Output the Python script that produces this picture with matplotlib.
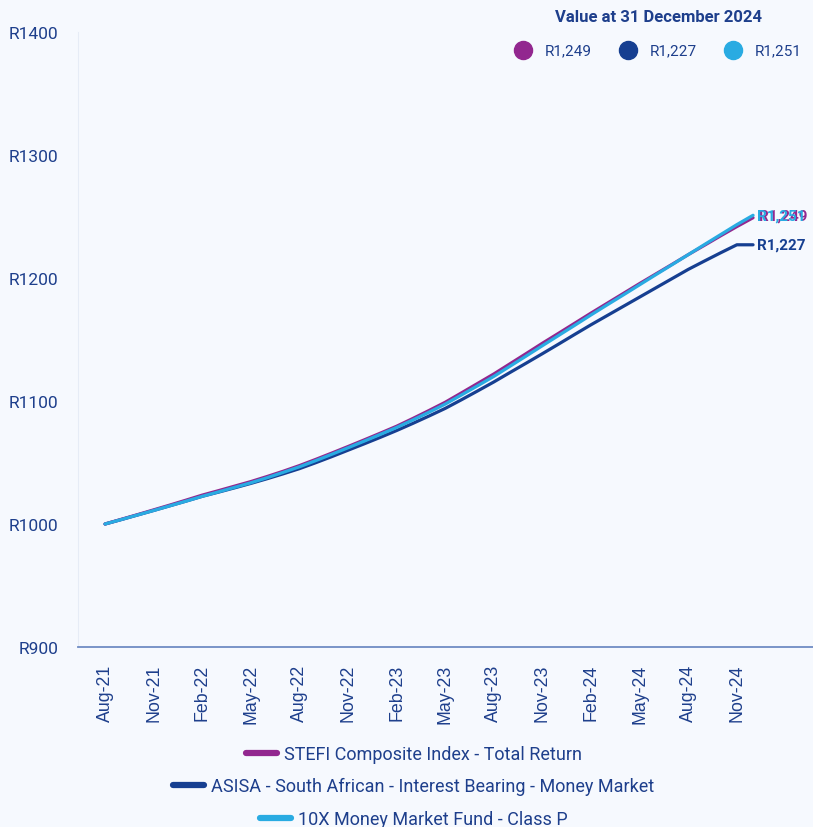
import matplotlib
matplotlib.use("Agg")
import matplotlib.pyplot as plt
from matplotlib.lines import Line2D

months = ["Aug-21","Sep-21","Oct-21","Nov-21","Dec-21","Jan-22","Feb-22","Mar-22","Apr-22","May-22",
          "Jun-22","Jul-22","Aug-22","Sep-22","Oct-22","Nov-22","Dec-22","Jan-23","Feb-23","Mar-23",
          "Apr-23","May-23","Jun-23","Jul-23","Aug-23","Sep-23","Oct-23","Nov-23","Dec-23","Jan-24",
          "Feb-24","Mar-24","Apr-24","May-24","Jun-24","Jul-24","Aug-24","Sep-24","Oct-24","Nov-24","Dec-24"]

stefi = [1000.0, 1003.8, 1007.6, 1011.5, 1015.4, 1019.4, 1023.5, 1027.1, 1030.8, 1034.5,
         1038.6, 1042.9, 1047.5, 1052.5, 1057.7, 1063.0, 1068.4, 1073.9, 1079.5, 1085.8,
         1092.3, 1099.0, 1106.6, 1114.3, 1122.0, 1130.3, 1138.6, 1147.0, 1155.1, 1163.3,
         1171.5, 1179.5, 1187.5, 1195.5, 1203.3, 1211.1, 1219.0, 1226.6, 1234.3, 1241.8, 1249.0]

asisa = [1000.0, 1003.6, 1007.3, 1011.0, 1014.8, 1018.6, 1022.5, 1025.9, 1029.4, 1033.0,
         1036.8, 1040.8, 1045.0, 1049.8, 1054.8, 1060.0, 1065.2, 1070.5, 1076.0, 1081.8,
         1087.8, 1094.0, 1101.0, 1108.2, 1115.5, 1123.2, 1130.8, 1138.5, 1146.3, 1154.2,
         1162.0, 1169.5, 1177.0, 1184.5, 1192.0, 1199.5, 1207.0, 1213.8, 1220.5, 1227.0, 1227.0]

tenx = [1000.0, 1003.6, 1007.3, 1011.0, 1014.8, 1018.6, 1022.5, 1026.1, 1029.8, 1033.5,
        1037.6, 1042.0, 1046.5, 1051.5, 1056.7, 1062.0, 1067.4, 1072.9, 1078.5, 1084.6,
        1090.9, 1097.5, 1104.9, 1112.4, 1120.0, 1128.3, 1136.6, 1145.0, 1153.3, 1161.6,
        1170.0, 1178.2, 1186.3, 1194.5, 1202.7, 1210.8, 1219.0, 1227.2, 1235.3, 1243.4, 1251.0]

series_names = ["STEFI Composite Index - Total Return",
                "ASISA - South African - Interest Bearing - Money Market",
                "10X Money Market Fund - Class P"]
end_labels = ["R1,249", "R1,227", "R1,251"]
y_ticks = [900, 1000, 1100, 1200, 1300, 1400]
header = "Value at 31 December 2024"

PURPLE = "#92278F"
DARK = "#163F91"
CYAN = "#29ABE2"
TEXT = "#1E3F8C"
BG = "#F6F9FE"

fig = plt.figure(figsize=(8.13, 8.28), dpi=100, facecolor=BG)
W, H = 813, 828
ax = fig.add_axes([78 / W, (H - 648) / H, (813 - 78) / W, (648 - 33) / H])
ax.set_facecolor(BG)

x = list(range(len(months)))
l1, = ax.plot(x, stefi, color=PURPLE, lw=2.3, solid_capstyle="round", zorder=3)
l2, = ax.plot(x, asisa, color=DARK, lw=2.3, solid_capstyle="round", zorder=2)
l3, = ax.plot(x, tenx, color=CYAN, lw=2.3, solid_capstyle="round", zorder=4)

ax.set_xlim(-1.67, 43.7)
ax.set_ylim(900, 1400)

ax.set_yticks(y_ticks)
ax.set_yticklabels([f"R{v}" for v in y_ticks], fontfamily="Roboto", fontsize=12.5, color=TEXT)
tick_idx = list(range(0, 40, 3))
ax.set_xticks(tick_idx)
ax.set_xticklabels([months[i] for i in tick_idx], rotation=90, fontfamily="Liberation Sans",
                   fontsize=12.8, color=TEXT)
ax.tick_params(axis="both", length=0)
ax.tick_params(axis="y", pad=14)
ax.tick_params(axis="x", pad=12)

for s in ["top", "right"]:
    ax.spines[s].set_visible(False)
ax.spines["left"].set_color("#E6ECF6")
ax.spines["left"].set_linewidth(0.8)
ax.spines["bottom"].set_color("#6F8CC4")
ax.spines["bottom"].set_linewidth(1.3)

# end labels (the two top labels overlap in the original as well)
last = len(months) - 1
ax.annotate(end_labels[0], (last, stefi[-1]), xytext=(4, 1.5), textcoords="offset points",
            va="center", ha="left", fontfamily="Roboto", fontweight="bold", fontsize=11, color=PURPLE)
ax.annotate(end_labels[2], (last, tenx[-1]), xytext=(3, 0), textcoords="offset points",
            va="center", ha="left", fontfamily="Roboto", fontweight="bold", fontsize=11, color=CYAN)
ax.annotate(end_labels[1], (last, asisa[-1]), xytext=(3, 0), textcoords="offset points",
            va="center", ha="left", fontfamily="Roboto", fontweight="bold", fontsize=11, color=DARK)

# value header and markers
fig.text(658 / W, 1 - 17 / H, header, ha="center", va="center", fontfamily="Roboto",
         fontweight="bold", fontsize=12, color=TEXT)
for cx, col, lab in [(523, PURPLE, end_labels[0]), (628, DARK, end_labels[1]), (733, CYAN, end_labels[2])]:
    fig.lines.append(Line2D([cx / W], [1 - 51 / H], marker="o", markersize=13, color=col,
                            transform=fig.transFigure))
    fig.text((cx + 22) / W, 1 - 51 / H, lab, ha="left", va="center", fontfamily="Roboto",
             fontsize=11, color=TEXT)

# legends (centered, one per row)
for line, name, yy in [(l1, series_names[0], 755), (l2, series_names[1], 787), (l3, series_names[2], 820)]:
    h = Line2D([], [], color=line.get_color(), lw=4.5, solid_capstyle="round")
    fig.legend([h], [name], loc="center", bbox_to_anchor=(414 / W, 1 - yy / H), frameon=False,
               prop={"family": "Roboto", "size": 13}, labelcolor=TEXT, handlelength=1.7,
               handletextpad=0.4, borderpad=0, borderaxespad=0)

fig.savefig("out.png", dpi=100, facecolor=BG)
